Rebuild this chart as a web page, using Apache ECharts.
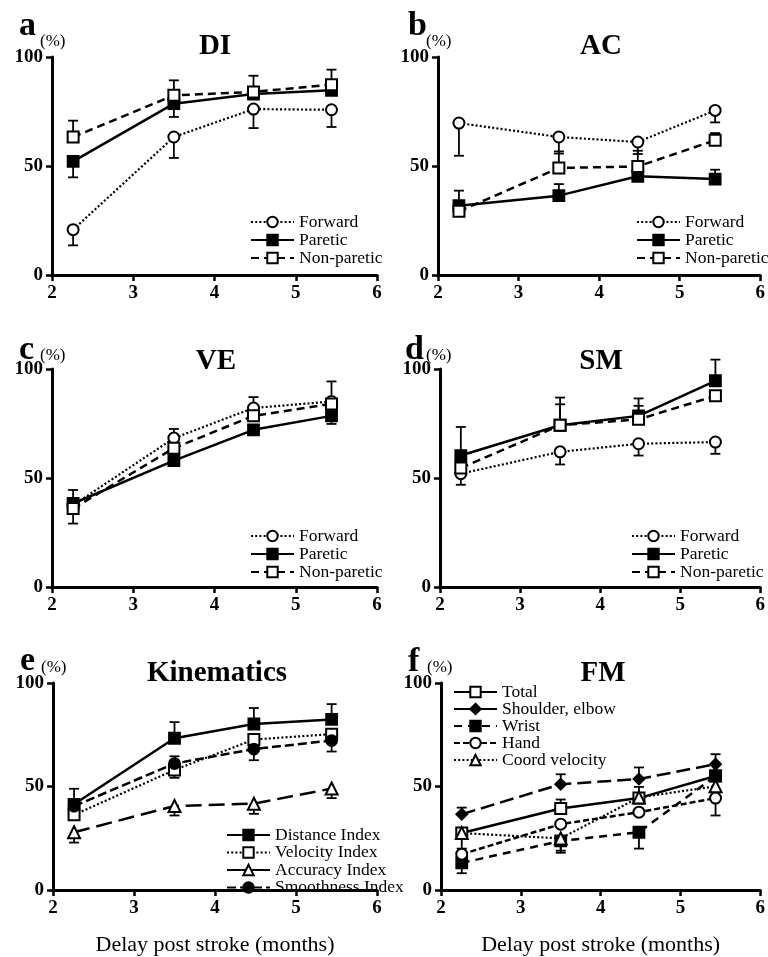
<!DOCTYPE html>
<html><head><meta charset="utf-8">
<script src="https://cdn.jsdelivr.net/npm/echarts@6/dist/echarts.min.js"></script>
<style>html,body{margin:0;padding:0;background:#fff}#c{width:768px;height:957px}</style>
</head><body><div id="c"></div>
<script>
// ---- data ----
const months = [2.26, 3.5, 4.48, 5.44];
const xTicks = [2, 3, 4, 5, 6];
const yTicks = [0, 50, 100];

// a: DI
const diForward = [20.8, 63.3, 76.1, 75.8];
const diForwardErr = [13.6, 53.7, 67.4, 67.9];
const diParetic = [52.1, 78.6, 83.0, 84.7];
const diPareticErr = [44.8, 72.5, null, null];
const diNonParetic = [63.3, 82.4, 84.0, 87.3];
const diNonPareticErr = [70.8, 89.3, 91.4, 94.2];

// b: AC
const acForward = [69.7, 63.3, 61.0, 75.5];
const acForwardErr = [54.7, 55.7, 55.5, 70.0];
const acParetic = [31.8, 36.4, 45.3, 44.0];
const acPareticErr = [38.7, 41.7, null, 48.3];
const acNonParetic = [29.2, 49.1, 49.8, 61.8];
const acNonPareticErr = [null, 56.7, 57.0, 65.1];

// c: VE
const veForward = [37.5, 68.3, 82.1, 85.1];
const veForwardErr = [null, 72.5, 87.1, 94.3];
const veParetic = [38.3, 58.0, 72.1, 78.5];
const vePareticErr = [44.5, null, null, 74.8];
const veNonParetic = [36.0, 63.7, 78.5, 84.0];
const veNonPareticErr = [29.1, null, null, null];

// d: SM
const smForward = [52.0, 62.0, 65.7, 66.5];
const smForwardErr = [46.9, 56.2, 60.3, 61.1];
const smParetic = [60.3, 74.2, 78.5, 94.6];
const smPareticErr = [73.4, 86.9, 86.5, 104.3];
const smNonParetic = [54.6, 74.2, 76.9, 87.7];
const smNonPareticErr = [null, 83.8, 83.1, null];

// e: Kinematics
const kinDistance = [41.4, 73.3, 80.2, 82.4];
const kinDistanceErr = [48.9, 81.1, 87.9, 89.8];
const kinVelocity = [36.3, 58.0, 72.7, 75.3];
const kinVelocityErr = [null, 54.2, null, null];
const kinAccuracy = [27.9, 40.6, 41.7, 49.0];
const kinAccuracyErr = [22.9, 36.0, 36.8, 44.4];
const kinSmoothness = [40.5, 61.1, 68.1, 72.2];
const kinSmoothnessErr = [null, 64.6, 62.7, 66.9];

// f: FM
const fmTotal = [27.5, 39.4, 44.4, 55.1];
const fmTotalErr = [null, 43.7, 49.8, null];
const fmShoulder = [36.6, 51.1, 53.6, 60.8];
const fmShoulderErr = [39.8, 55.9, 59.2, 65.6];
const fmWrist = [13.1, 23.7, 27.9, 55.1];
const fmWristErr = [8.1, 18.0, 20.0, null];
const fmHand = [17.3, 31.8, 37.6, 44.4];
const fmHandErr = [null, null, null, 36.0];
const fmCoord = [27.5, 24.9, 44.7, 50.1];
const fmCoordErr = [20.0, 19.0, null, null];

const panelTitles = ['DI', 'AC', 'VE', 'SM', 'Kinematics', 'FM'];
const panelLetters = ['a', 'b', 'c', 'd', 'e', 'f'];
const xAxisTitle = 'Delay post stroke (months)';
const unitLabel = '(%)';

// ---- styles ----
const FONT = '"Liberation Serif", "Times New Roman", serif';
const grids = [
  {left: 52, top: 57, width: 325, height: 218},
  {left: 438, top: 57, width: 324, height: 218},
  {left: 52, top: 369, width: 325, height: 218},
  {left: 440, top: 369, width: 322, height: 218},
  {left: 53, top: 683, width: 324, height: 218},
  {left: 441, top: 683, width: 321, height: 218}
];
const S = {
  dotOpenCircle: {symbol: 'emptyCircle', size: 11, w: 2.2, dash: [2, 2.2]},
  solidFillRect: {symbol: 'rect', size: 11, w: 2.5, dash: 'solid'},
  dashOpenRect: {symbol: 'emptyRect', size: 11, w: 2.5, dash: [8, 5]},
  dotOpenRect: {symbol: 'emptyRect', size: 11, w: 2.2, dash: [2, 2.2]},
  longOpenTri: {symbol: 'emptyTriangle', size: 12, w: 2.5, dash: [16, 7]},
  dashFillCircle: {symbol: 'circle', size: 11, w: 2.5, dash: [9, 4]},
  solidOpenRect: {symbol: 'emptyRect', size: 11, w: 2.5, dash: 'solid'},
  longFillDiamond: {symbol: 'diamond', size: 11, w: 2.5, dash: [14, 6]},
  dashFillRect: {symbol: 'rect', size: 11, w: 2.5, dash: [8, 6]},
  shortOpenCircle: {symbol: 'emptyCircle', size: 11, w: 2.5, dash: [6, 3]},
  dotOpenTri: {symbol: 'emptyTriangle', size: 12, w: 2.2, dash: [2, 2.2]}
};

const series = [];
function add(gi, name, ys, ends, st) {
  series.push({
    type: 'line', name: name, xAxisIndex: gi, yAxisIndex: gi,
    data: months.map((x, i) => [x, ys[i]]),
    symbol: st.symbol, symbolSize: st.size, showSymbol: true,
    lineStyle: {color: '#000', width: st.w, type: st.dash},
    itemStyle: {color: '#000', borderColor: '#000', borderWidth: 1.8},
    z: 3, animation: false, clip: false
  });
  const data = [];
  months.forEach((x, i) => { if (ends[i] != null) data.push([x, ys[i], ends[i]]); });
  series.push({
    type: 'custom', xAxisIndex: gi, yAxisIndex: gi, data: data, z: 2, silent: true, clip: false,
    encode: {x: 0, y: [1, 2]},
    renderItem: function (params, api) {
      const p0 = api.coord([api.value(0), api.value(1)]);
      const p1 = api.coord([api.value(0), api.value(2)]);
      return {type: 'group', children: [
        {type: 'line', shape: {x1: p0[0], y1: p0[1], x2: p1[0], y2: p1[1]}, style: {stroke: '#000', lineWidth: 1.8}},
        {type: 'line', shape: {x1: p1[0] - 5, y1: p1[1], x2: p1[0] + 5, y2: p1[1]}, style: {stroke: '#000', lineWidth: 1.8}}
      ]};
    }
  });
}

add(0, 'Forward', diForward, diForwardErr, S.dotOpenCircle);
add(0, 'Paretic', diParetic, diPareticErr, S.solidFillRect);
add(0, 'Non-paretic', diNonParetic, diNonPareticErr, S.dashOpenRect);
add(1, 'Forward', acForward, acForwardErr, S.dotOpenCircle);
add(1, 'Paretic', acParetic, acPareticErr, S.solidFillRect);
add(1, 'Non-paretic', acNonParetic, acNonPareticErr, S.dashOpenRect);
add(2, 'Forward', veForward, veForwardErr, S.dotOpenCircle);
add(2, 'Paretic', veParetic, vePareticErr, S.solidFillRect);
add(2, 'Non-paretic', veNonParetic, veNonPareticErr, S.dashOpenRect);
add(3, 'Forward', smForward, smForwardErr, S.dotOpenCircle);
add(3, 'Paretic', smParetic, smPareticErr, S.solidFillRect);
add(3, 'Non-paretic', smNonParetic, smNonPareticErr, S.dashOpenRect);
add(4, 'Distance Index', kinDistance, kinDistanceErr, S.solidFillRect);
add(4, 'Velocity Index', kinVelocity, kinVelocityErr, S.dotOpenRect);
add(4, 'Accuracy Index', kinAccuracy, kinAccuracyErr, S.longOpenTri);
add(4, 'Smoothness Index', kinSmoothness, kinSmoothnessErr, S.dashFillCircle);
add(5, 'Total', fmTotal, fmTotalErr, S.solidOpenRect);
add(5, 'Shoulder, elbow', fmShoulder, fmShoulderErr, S.longFillDiamond);
add(5, 'Wrist', fmWrist, fmWristErr, S.dashFillRect);
add(5, 'Hand', fmHand, fmHandErr, S.shortOpenCircle);
add(5, 'Coord velocity', fmCoord, fmCoordErr, S.dotOpenTri);

const axisLabel = {fontFamily: FONT, fontSize: 19, fontWeight: 'bold', color: '#000'};
const xAxis = grids.map((g, i) => ({
  type: 'value', gridIndex: i, min: xTicks[0], max: xTicks[xTicks.length - 1], interval: 1,
  axisLine: {lineStyle: {color: '#000', width: 3}},
  axisTick: {length: 6, lineStyle: {color: '#000', width: 2.5}},
  splitLine: {show: false},
  axisLabel: Object.assign({margin: 9}, axisLabel),
  name: i >= 4 ? xAxisTitle : '', nameLocation: 'middle', nameGap: 44,
  nameTextStyle: {fontFamily: FONT, fontSize: 22, color: '#000'}
}));
const yAxis = grids.map((g, i) => ({
  type: 'value', gridIndex: i, min: yTicks[0], max: yTicks[yTicks.length - 1], interval: 50,
  axisLine: {lineStyle: {color: '#000', width: 3}},
  axisTick: {length: 6, lineStyle: {color: '#000', width: 2.5}},
  splitLine: {show: false},
  axisLabel: Object.assign({margin: 9}, axisLabel)
}));

function legend(names, left, top, gap, overrides) {
  return {
    data: names.map(n => (overrides && overrides[n]) ? Object.assign({name: n}, overrides[n]) : n),
    left: left, top: top, orient: 'vertical', itemWidth: 43, itemHeight: 13, itemGap: gap, padding: 0,
    selectedMode: false,
    textStyle: {fontFamily: FONT, fontSize: 17.5, color: '#000'}
  };
}
const trio = ['Forward', 'Paretic', 'Non-paretic'];
const legends = [
  legend(trio, 250, 213, 0),
  legend(trio, 636, 213, 0),
  legend(trio, 250, 527, 0),
  legend(trio, 631, 527, 0),
  legend(['Distance Index', 'Velocity Index', 'Accuracy Index', 'Smoothness Index'], 226, 826, -0.5,
    {'Accuracy Index': {lineStyle: {type: 'solid'}}}),
  legend(['Total', 'Shoulder, elbow', 'Wrist', 'Hand', 'Coord velocity'], 453, 683, -1,
    {'Shoulder, elbow': {lineStyle: {type: 'solid'}}})
];

const titlePos = [[215, 47], [601, 47], [216, 362], [601, 362], [217, 674], [603, 674]];
const letterPos = [[19, 26], [408, 26], [19, 350], [405, 350], [20, 661.5], [408, 662.5]];
const unitPos = [[40, 41.5], [426, 41.5], [40, 355.5], [426, 355.5], [41, 668], [427, 668]];
const graphic = [];
panelTitles.forEach((t, i) => {
  graphic.push({type: 'text', x: titlePos[i][0], y: titlePos[i][1], silent: true,
    style: {text: t, font: 'bold 29px ' + FONT, fill: '#000', align: 'center', verticalAlign: 'middle'}});
  graphic.push({type: 'text', x: letterPos[i][0], y: letterPos[i][1], silent: true,
    style: {text: panelLetters[i], font: 'bold 34px ' + FONT, fill: '#000', align: 'left', verticalAlign: 'middle'}});
  graphic.push({type: 'text', x: unitPos[i][0], y: unitPos[i][1], silent: true,
    style: {text: unitLabel, font: '17px ' + FONT, fill: '#000', align: 'left', verticalAlign: 'middle'}});
});

const chart = echarts.init(document.getElementById('c'), null, {renderer: 'canvas'});
chart.setOption({
  backgroundColor: '#fff', animation: false,
  grid: grids, xAxis: xAxis, yAxis: yAxis, legend: legends, series: series, graphic: graphic
});
</script></body></html>
